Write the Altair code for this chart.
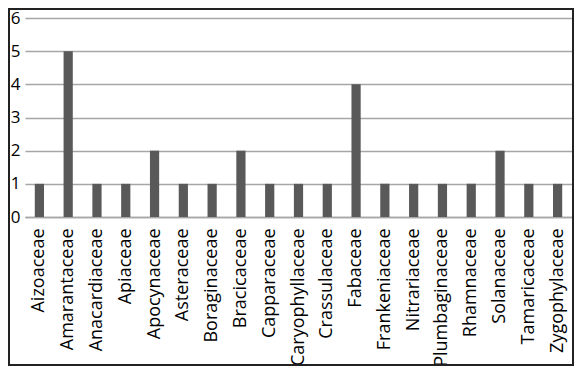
import altair as alt
import pandas as pd

families = ["Aizoaceae", "Amarantaceae", "Anacardiaceae", "Apiaceae", "Apocynaceae",
            "Asteraceae", "Boraginaceae", "Bracicaceae", "Capparaceae", "Caryophyllaceae",
            "Crassulaceae", "Fabaceae", "Frankeniaceae", "Nitrariaceae", "Plumbaginaceae",
            "Rhamnaceae", "Solanaceae", "Tamaricaceae", "Zygophylaceae"]
counts = [1, 5, 1, 1, 2, 1, 1, 2, 1, 1, 1, 4, 1, 1, 1, 1, 2, 1, 1]

df = pd.DataFrame({"family": families, "count": counts})

W, H = 547, 199
TOP = 10
LEFT = 17
FONT = "Open Sans"

bars = alt.Chart(df).mark_bar(color="#595959").encode(
    x=alt.X("family:N", sort=families, title=None,
            scale=alt.Scale(paddingInner=0.68, paddingOuter=0.34),
            axis=alt.Axis(labelAngle=-90, ticks=False, labelPadding=11,
                          labelFontSize=18, labelFont=FONT, labelColor="#000000",
                          domainColor="#a6a6a6", domainWidth=1.5, labelLimit=200)),
    y=alt.Y("count:Q", title=None,
            scale=alt.Scale(domain=[0, 6]),
            axis=alt.Axis(values=[0, 1, 2, 3, 4, 5, 6], ticks=False, domain=False,
                          labelPadding=5, labelFontSize=17, labelFont=FONT,
                          labelColor="#000000", gridColor="#a6a6a6", gridWidth=1.5)),
)

frame = alt.Chart(df).mark_rect(fill=None, stroke="#222222", strokeWidth=2).encode(
    x=alt.value(1 - LEFT), x2=alt.value(W + 1), y=alt.value(1 - TOP), y2=alt.value(H + 148)
)

chart = alt.layer(bars, frame).properties(
    width=W, height=H,
    autosize=alt.AutoSizeParams(type="none"),
    padding={"left": LEFT, "top": TOP, "right": 2, "bottom": 149},
).configure_view(stroke=None)

chart.save("out.html", embed_options={"renderer": "svg", "actions": False})
